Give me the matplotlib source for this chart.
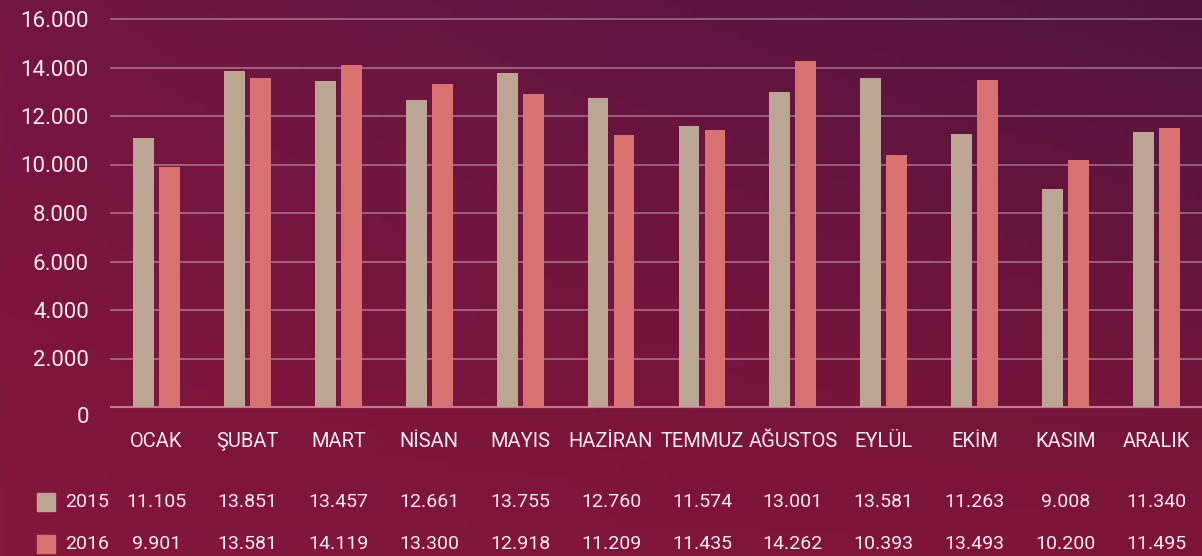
import numpy as np
import matplotlib.pyplot as plt
from matplotlib.patches import Rectangle
from matplotlib.transforms import blended_transform_factory

months = ['OCAK', 'ŞUBAT', 'MART', 'NİSAN', 'MAYIS', 'HAZİRAN', 'TEMMUZ',
          'AĞUSTOS', 'EYLÜL', 'EKİM', 'KASIM', 'ARALIK']
years = ['2015', '2016']
values_2015 = [11105, 13851, 13457, 12661, 13755, 12760, 11574, 13001, 13581, 11263, 9008, 11340]
values_2016 = [9901, 13581, 14119, 13300, 12918, 11209, 11435, 14262, 10393, 13493, 10200, 11495]
y_ticks = [0, 2000, 4000, 6000, 8000, 10000, 12000, 14000, 16000]

colors = ['#bca592', '#d87170']
text_color = '#f3e9ee'

plt.rcParams['font.family'] = ['Roboto', 'DejaVu Sans']

W, H = 1202, 556
fig = plt.figure(figsize=(W / 100, H / 100), dpi=100)

# gradient background: crimson on the left, darker purple to the top right
bg = fig.add_axes([0, 0, 1, 1], zorder=-10)
tl = np.array([0x74, 0x16, 0x42]) / 255
tr = np.array([0x50, 0x14, 0x40]) / 255
bl = np.array([0x84, 0x16, 0x3c]) / 255
br = np.array([0x80, 0x14, 0x38]) / 255
u = np.linspace(0, 1, 200)[None, :, None]
v = np.linspace(0, 1, 100)[:, None, None]
top = tl * (1 - u) + tr * u
bot = bl * (1 - u) + br * u
img = top * (1 - v) + bot * v
bg.imshow(img, aspect='auto', extent=[0, 1, 0, 1], origin='upper')
bg.axis('off')

ax = fig.add_axes([111 / W, 149 / H, 1091 / W, 388 / H])
ax.patch.set_alpha(0)

x = np.arange(len(months))
w = 0.23
off = 0.143
ax.bar(x - off, values_2015, w, color=colors[0], zorder=3)
ax.bar(x + off, values_2016, w, color=colors[1], zorder=3)

ax.set_xlim(-0.5, len(months) - 0.5)
ax.set_ylim(0, 16000)
ax.set_yticks(y_ticks)
ax.set_yticklabels([f'{t:,}'.replace(',', '.') for t in y_ticks], color=text_color, fontsize=16)
ax.get_yticklabels()[0].set_va('top')
ax.tick_params(axis='y', length=0, pad=16)
ax.set_xticks(x)
ax.set_xticklabels(months, color=text_color, fontsize=14.5)
ax.tick_params(axis='x', length=0, pad=18)

for t in y_ticks[1:]:
    ax.axhline(t, color='#ffffff', alpha=0.35, lw=1.3, zorder=1, clip_on=False)
for s in ['top', 'right', 'left']:
    ax.spines[s].set_visible(False)
ax.spines['bottom'].set_color('#c07a8e')
ax.spines['bottom'].set_linewidth(1.5)

# data table under the chart
trans = blended_transform_factory(ax.transData, fig.transFigure)
rows = [values_2015, values_2016]
row_y = [1 - 502 / H, 1 - 544 / H]
for vals, ry, c, yr in zip(rows, row_y, colors, years):
    for i, val in enumerate(vals):
        ax.text(i, ry, f'{val:,}'.replace(',', '.'), transform=trans, ha='center', va='center',
                color=text_color, fontsize=14)
    fig.patches.append(Rectangle((37 / W, ry - 9 / H), 18 / W, 18 / H, transform=fig.transFigure,
                                 color=c, figure=fig))
    fig.text(65 / W, ry, yr, ha='left', va='center', color=text_color, fontsize=14)

fig.savefig('out.png', dpi=100)
